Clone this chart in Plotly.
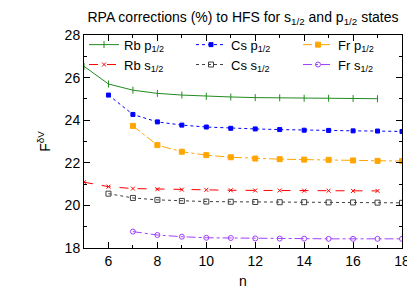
import plotly.graph_objects as go

n_rb = list(range(5, 18))
n_cs = list(range(6, 19))
n_fr = list(range(7, 19))

rb_p = [26.53, 25.70, 25.41, 25.26, 25.18, 25.12, 25.09, 25.06, 25.05, 25.03, 25.03, 25.02, 25.01]
cs_p = [25.18, 24.27, 23.92, 23.77, 23.68, 23.62, 23.59, 23.56, 23.53, 23.52, 23.50, 23.49, 23.47]
fr_p = [23.73, 22.83, 22.52, 22.36, 22.26, 22.20, 22.17, 22.15, 22.14, 22.11, 22.09, 22.08]
rb_s = [21.09, 20.88, 20.79, 20.76, 20.74, 20.73, 20.71, 20.70, 20.70, 20.69, 20.69, 20.68, 20.68]
cs_s = [20.55, 20.35, 20.26, 20.21, 20.18, 20.17, 20.16, 20.15, 20.15, 20.14, 20.14, 20.13, 20.12]
fr_s = [18.77, 18.61, 18.53, 18.48, 18.47, 18.45, 18.44, 18.44, 18.43, 18.43, 18.43, 18.43]

series = [
    ("Rb p<sub>1/2</sub>", n_rb, rb_p, "#228b22", "solid", "line-ns-open", 5),
    ("Cs p<sub>1/2</sub>", n_cs, cs_p, "#0000ff", "dot", "square", 4),
    ("Fr p<sub>1/2</sub>", n_fr, fr_p, "#ffa500", "dashdot", "square", 5),
    ("Rb s<sub>1/2</sub>", n_rb, rb_s, "#ff0000", "dash", "x-thin-open", 4),
    ("Cs s<sub>1/2</sub>", n_cs, cs_s, "#404040", "dot", "square-open", 5),
    ("Fr s<sub>1/2</sub>", n_fr, fr_s, "#a040ff", "dashdot", "circle-open", 5),
]

fig = go.Figure()
for name, x, y, c, dash, sym, sz in series:
    fig.add_trace(go.Scatter(
        x=x, y=y, name=name, mode="lines+markers",
        line=dict(color=c, width=1, dash=dash),
        marker=dict(symbol=sym, size=sz, color=c, line=dict(color=c, width=1)),
    ))

font = dict(family="Liberation Sans, Arial, sans-serif", size=14, color="black")
axis_common = dict(
    showline=True, linecolor="black", linewidth=1, mirror="ticks",
    ticks="inside", ticklen=6, tickcolor="black", showgrid=False, zeroline=False,
    tickfont=font,
)
fig.update_xaxes(range=[5, 18], dtick=2, tick0=6,
                 minor=dict(ticks="inside", ticklen=3, dtick=1, tickcolor="black"),
                 title=dict(text="n", font=font, standoff=8), **axis_common)
fig.update_yaxes(range=[18, 28], dtick=2,
                 minor=dict(ticks="inside", ticklen=3, dtick=1, tickcolor="black"),
                 title=dict(text="F<sup>δV</sup>", font=font, standoff=10), **axis_common)

fig.update_layout(
    width=415, height=291,
    margin=dict(l=76, r=21, t=27, b=44),
    paper_bgcolor="white", plot_bgcolor="white",
    font=font,
    title=dict(text="RPA corrections (%) to HFS for s<sub>1/2</sub> and p<sub>1/2</sub> states",
               x=0.5, xref="paper", xanchor="center", y=0.985, yanchor="top",
               font=dict(family="Liberation Sans, Arial, sans-serif", size=14, color="black")),
    legend=dict(orientation="h", x=0.0, y=1.025, xanchor="left", yanchor="top",
                bgcolor="rgba(0,0,0,0)", entrywidth=62, entrywidthmode="pixels",
                font=dict(family="Liberation Sans, Arial, sans-serif", size=13),
                itemwidth=30, tracegroupgap=0),
    showlegend=True,
)

fig.write_html("out.html")
